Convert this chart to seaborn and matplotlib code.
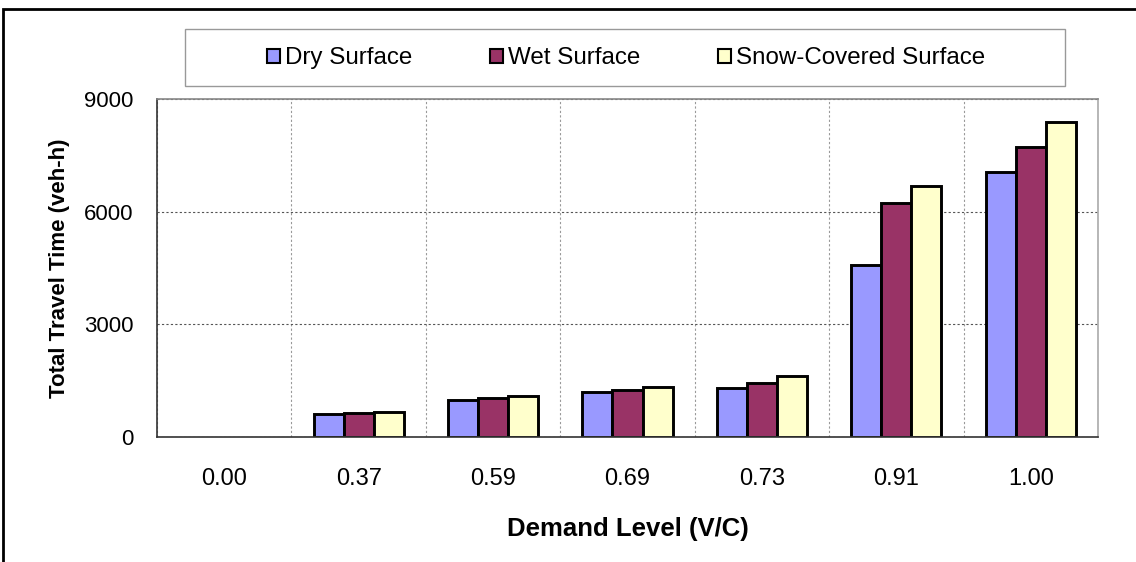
import numpy as np
import pandas as pd
import matplotlib.pyplot as plt
import seaborn as sns
from matplotlib.patches import Rectangle

# 数据
demand_levels = ["0.00", "0.37", "0.59", "0.69", "0.73", "0.91", "1.00"]
dry_surface = [0, 600, 990, 1190, 1295, 4580, 7050]
wet_surface = [0, 630, 1035, 1250, 1430, 6240, 7715]
snow_surface = [0, 660, 1090, 1320, 1625, 6690, 8390]
series_names = ["Dry Surface", "Wet Surface", "Snow-Covered Surface"]
series_colors = ["#9999FF", "#993366", "#FFFFCC"]
y_ticks = [0, 3000, 6000, 9000]

df = pd.DataFrame(
    {
        "demand": demand_levels * 3,
        "surface": [series_names[0]] * 7 + [series_names[1]] * 7 + [series_names[2]] * 7,
        "time": dry_surface + wet_surface + snow_surface,
    }
)

sns.set_theme(style="white")
plt.rcParams["font.family"] = ["Liberation Sans", "DejaVu Sans"]
plt.rcParams["text.color"] = "black"
plt.rcParams["axes.labelcolor"] = "black"
plt.rcParams["xtick.color"] = "black"
plt.rcParams["ytick.color"] = "black"

W, H = 1136, 562
fig = plt.figure(figsize=(W / 100, H / 100), dpi=100)
ax = fig.add_axes([157 / W, 1 - 437 / H, (1098 - 157) / W, (437 - 99) / H])

sns.barplot(
    data=df,
    x="demand",
    y="time",
    hue="surface",
    order=demand_levels,
    hue_order=series_names,
    palette=series_colors,
    width=0.67,
    edgecolor="black",
    linewidth=2.1,
    saturation=1,
    legend=False,
    ax=ax,
)

# 零值柱子不画边框
for p in ax.patches:
    if p.get_height() == 0:
        p.set_linewidth(0)

ax.set_xlim(-0.5, len(demand_levels) - 0.5)
ax.set_ylim(0, 9000)
ax.set_yticks(y_ticks)
ax.set_yticklabels([str(v) for v in y_ticks], fontsize=16)

# x轴：标签在中心，刻度在分界处
ax.set_xticks(range(len(demand_levels)))
ax.set_xticklabels(demand_levels, fontsize=17)
ax.set_xticks(np.arange(-0.5, len(demand_levels), 1.0), minor=True)
ax.tick_params(axis="x", which="major", length=0, pad=22)
ax.tick_params(axis="x", which="minor", length=6, width=0.8, color="#808080", direction="inout")
ax.tick_params(axis="y", which="major", length=6, width=0.8, color="#555555", direction="inout", pad=14)

ax.grid(False)
ax.xaxis.grid(True, which="minor", linestyle=(0, (2, 2)), color="#999999", linewidth=0.8)
ax.yaxis.grid(True, which="major", linestyle=(0, (2, 2)), color="#555555", linewidth=0.8)
ax.set_axisbelow(True)

ax.spines["left"].set_color("#333333")
ax.spines["bottom"].set_color("#333333")
ax.spines["top"].set_color("#888888")
ax.spines["right"].set_color("#aaaaaa")
for s in ax.spines.values():
    s.set_linewidth(1.2)

ax.set_xlabel("Demand Level (V/C)", fontsize=18.5, fontweight="bold", labelpad=20)
ax.set_ylabel("Total Travel Time (veh-h)", fontsize=16, fontweight="bold", labelpad=10)

# 图例框
fig.patches.append(
    Rectangle((185 / W, 1 - 86 / H), (1065 - 185) / W, (86 - 29) / H,
              transform=fig.transFigure, fill=False, edgecolor="#999999", linewidth=1.0)
)
handles = [
    Rectangle((0, 0), 1, 1, facecolor=c, edgecolor="black", linewidth=1.5)
    for c in series_colors
]
fig.legend(
    handles,
    series_names,
    loc="center",
    bbox_to_anchor=(626 / W, 1 - 58.5 / H),
    ncol=3,
    frameon=False,
    fontsize=17.4,
    handlelength=0.55,
    handleheight=0.55,
    handletextpad=0.2,
    columnspacing=3.2,
)

# 外框
fig.patches.append(
    Rectangle((3 / W, -0.1), 1.2, 1 - 9 / H + 0.1,
              transform=fig.transFigure, fill=False, edgecolor="black", linewidth=2.0)
)

fig.savefig("out.png", dpi=100)
